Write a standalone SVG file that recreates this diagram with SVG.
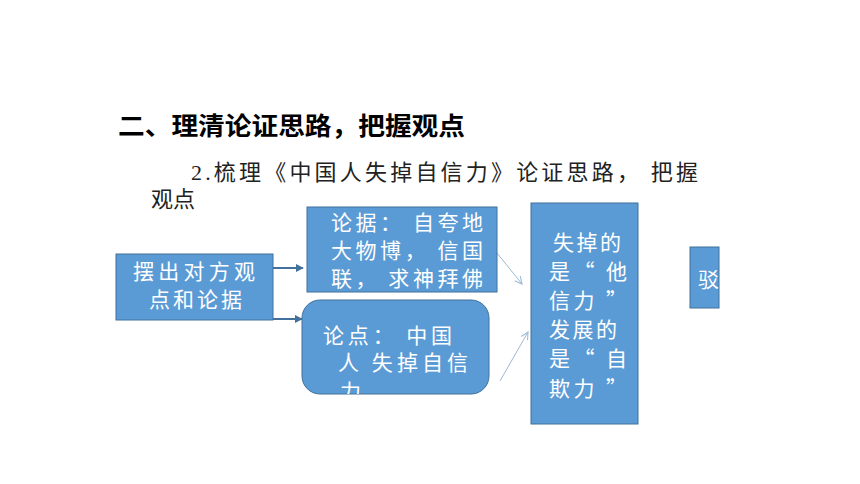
<svg xmlns="http://www.w3.org/2000/svg" width="860" height="484" viewBox="0 0 860 484">
<defs>
<style>
.box{fill:#5B9BD5;stroke:#41719C;stroke-width:1}
.bt{font-family:"Noto Sans CJK SC",sans-serif;font-size:21px;fill:#FFFFFF}
.title{font-family:"Noto Sans CJK SC",sans-serif;font-size:25px;font-weight:bold;fill:#000}
.sub{font-family:"Liberation Serif","Noto Sans CJK SC",serif;font-size:22px;fill:#222}
.c1{stroke:#41719C;stroke-width:2;fill:none}
.c2{stroke:#9DB9D6;stroke-width:1;fill:none}
</style>
<marker id="ah" viewBox="0 0 10 10" refX="9" refY="5" markerWidth="4" markerHeight="4" orient="auto"><path d="M0,0 L10,5 L0,10 z" fill="#41719C"/></marker>
<marker id="ao" viewBox="0 0 10 10" refX="9" refY="5" markerWidth="9" markerHeight="9" markerUnits="userSpaceOnUse" orient="auto"><path d="M1,1 L9,5 L1,9" fill="none" stroke="#9DB9D6" stroke-width="1.2"/></marker>
<clipPath id="cp3"><rect x="302" y="300" width="187" height="94" rx="18"/></clipPath>
<clipPath id="cp5"><rect x="690" y="247" width="29" height="61"/></clipPath>
</defs>
<rect width="860" height="484" fill="#FFFFFF"/>
<text class="title" x="118" y="135" textLength="347" lengthAdjust="spacingAndGlyphs">二、理清论证思路，把握观点</text>
<text class="sub" x="191" y="180" textLength="507" lengthAdjust="spacing">2.梳理《中国人失掉自信力》论证思路， 把握</text>
<text class="sub" x="151" y="207">观点</text>
<g id="connectors">
<line class="c1" x1="273" y1="268" x2="303" y2="268" marker-end="url(#ah)"/>
<line class="c1" x1="273" y1="319" x2="302" y2="319" marker-end="url(#ah)"/>
<line class="c2" x1="497" y1="253" x2="522" y2="284" marker-end="url(#ao)"/>
<line class="c2" x1="500" y1="381" x2="528" y2="332" marker-end="url(#ao)"/>
</g>
<g id="n1">
<rect class="box" x="116" y="254" width="157" height="66"/>
<text class="bt" x="133" y="279" textLength="122" lengthAdjust="spacing">摆出对方观</text>
<text class="bt" x="149" y="307" textLength="93" lengthAdjust="spacing">点和论据</text>
</g>
<g id="n2">
<rect class="box" x="307" y="207" width="190" height="85"/>
<text class="bt" x="331" y="230" textLength="152" lengthAdjust="spacing">论据：  自夸地</text>
<text class="bt" x="331" y="258" textLength="152" lengthAdjust="spacing">大物博，  信国</text>
<text class="bt" x="331" y="286" textLength="152" lengthAdjust="spacing">联，  求神拜佛</text>
</g>
<g id="n3">
<rect class="box" x="302" y="300" width="187" height="94" rx="18"/>
<g clip-path="url(#cp3)">
<text class="bt" x="323" y="343" textLength="129" lengthAdjust="spacing">论点：  中国</text>
<text class="bt" x="338" y="370" textLength="130" lengthAdjust="spacing">人  失掉自信</text>
<text class="bt" x="340" y="399">力</text>
</g>
</g>
<g id="n4">
<rect class="box" x="531" y="203" width="107" height="221"/>
<text class="bt" x="553" y="250" textLength="68" lengthAdjust="spacing">失掉的</text>
<text class="bt" x="549" y="279" textLength="78" lengthAdjust="spacing">是“  他</text>
<text class="bt" x="549" y="308" textLength="78" lengthAdjust="spacing">信力  ”</text>
<text class="bt" x="549" y="337" textLength="68" lengthAdjust="spacing">发展的</text>
<text class="bt" x="549" y="366" textLength="78" lengthAdjust="spacing">是“  自</text>
<text class="bt" x="549" y="396" textLength="78" lengthAdjust="spacing">欺力  ”</text>
</g>
<g id="n5">
<rect class="box" x="690" y="247" width="29" height="61"/>
<g clip-path="url(#cp5)"><text class="bt" x="698" y="287">驳</text></g>
</g>
</svg>
